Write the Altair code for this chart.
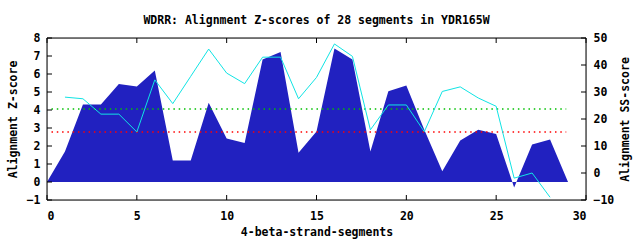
import altair as alt
import pandas as pd

# ---- data ----
segments = list(range(0, 30))
z_scores = [0, 1.7, 4.3, 4.3, 5.44, 5.3, 6.19, 1.19, 1.19, 4.4,
            2.42, 2.17, 6.8, 7.22, 1.62, 2.8, 7.42, 6.8, 1.7, 5.04,
            5.36, 2.9, 0.6, 2.3, 2.9, 2.67, -0.3, 2.08, 2.36, 0]
ss_segments = list(range(1, 29))
ss_scores = [28.1, 27.5, 21.8, 21.8, 15.2, 34.5, 25.7, 35.8, 45.9, 37.0,
             33.1, 42.9, 42.9, 27.5, 35.4, 47.8, 43.2, 16.0, 25.2, 25.2,
             15.3, 30.2, 31.9, 27.8, 24.7, -1.9, 0.0, -9.0]
thresholds = [4.06, 2.78]
threshold_colors = ["#00c000", "#ff0000"]
threshold_span = [0.25, 28.9]
x_ticks = [0, 5, 10, 15, 20, 25, 30]
z_ticks = [-1, 0, 1, 2, 3, 4, 5, 6, 7, 8]
ss_ticks = [-10, 0, 10, 20, 30, 40, 50]

W, H = 539, 162
FONT = "DejaVu Sans Mono"
FS = 11.5

z_df = pd.DataFrame({"seg": segments, "z": z_scores})
ss_df = pd.DataFrame({"seg": ss_segments, "ss": ss_scores})
thr_df = pd.DataFrame({"y": thresholds, "c": threshold_colors,
                       "x1": [threshold_span[0]] * 2, "x2": [threshold_span[1]] * 2})
xt_df = pd.DataFrame({"t": x_ticks})
zt_df = pd.DataFrame({"t": z_ticks})
st_df = pd.DataFrame({"t": ss_ticks})
one_df = pd.DataFrame({"k": [0]})

xscale = alt.Scale(domain=[0, 30], nice=False, zero=False)
zscale = alt.Scale(domain=[-1, 8], nice=False, zero=False)
sscale = alt.Scale(domain=[-10, 50], nice=False, zero=False)

x_axis = alt.Axis(values=x_ticks, ticks=False, domain=False, grid=False,
                  labelFont=FONT, labelFontWeight="bold", labelFontSize=FS,
                  labelColor="black", labelPadding=10,
                  title="4-beta-strand-segments", titleFont=FONT,
                  titleFontWeight="bold", titleFontSize=FS, titleColor="black",
                  titlePadding=5)

X = lambda f: alt.X(f, scale=xscale, axis=x_axis)

area = alt.Chart(z_df).mark_area(color="#2121c0", interpolate="linear").encode(
    x=X("seg:Q"),
    y=alt.Y("z:Q", scale=zscale,
            axis=alt.Axis(orient="left", values=z_ticks, ticks=False, domain=False,
                          grid=False, labelFont=FONT, labelFontWeight="bold",
                          labelFontSize=FS, labelColor="black", labelPadding=7,
                          title="Alignment Z-score", titleFont=FONT,
                          titleFontWeight="bold", titleFontSize=FS,
                          titleColor="black", titlePadding=8)),
    y2=alt.datum(0),
)

thr = alt.Chart(thr_df).mark_rule(strokeWidth=1.5, strokeDash=[1.5, 3.8]).encode(
    x=X("x1:Q"),
    x2="x2:Q",
    y=alt.Y("y:Q", scale=zscale, axis=None),
    color=alt.Color("c:N", scale=None),
)

line = alt.Chart(ss_df).mark_line(color="#10e4e4", strokeWidth=1).encode(
    x=X("seg:Q"),
    y=alt.Y("ss:Q", scale=sscale,
            axis=alt.Axis(orient="right", values=ss_ticks, ticks=False, domain=False,
                          grid=False, labelFont=FONT, labelFontWeight="bold",
                          labelFontSize=FS, labelColor="black", labelPadding=7,
                          labelAlign="left",
                          labelExpr="datum.value >= 0 ? ' ' + datum.label : datum.label",
                          title="Alignment SS-score", titleFont=FONT,
                          titleFontWeight="bold", titleFontSize=FS,
                          titleColor="black", titleAngle=270, titlePadding=17)),
)

xt_bottom = alt.Chart(xt_df).mark_rule(color="black").encode(
    x=X("t:Q"),
    y=alt.value(H), y2=alt.value(H - 5),
)
xt_top = alt.Chart(xt_df).mark_rule(color="black").encode(
    x=X("t:Q"),
    y=alt.value(0), y2=alt.value(5),
)
zt = alt.Chart(zt_df).mark_rule(color="black").encode(
    y=alt.Y("t:Q", scale=zscale, axis=None),
    x=alt.value(0), x2=alt.value(5),
)
st = alt.Chart(st_df).mark_rule(color="black").encode(
    y=alt.Y("t:Q", scale=sscale, axis=None),
    x=alt.value(W - 5), x2=alt.value(W),
)

border = alt.layer(
    alt.Chart(one_df).mark_rule(color="black").encode(
        x=alt.value(0), x2=alt.value(W), y=alt.value(0)),
    alt.Chart(one_df).mark_rule(color="black").encode(
        x=alt.value(0), x2=alt.value(W), y=alt.value(H)),
    alt.Chart(one_df).mark_rule(color="black").encode(
        x=alt.value(0), y=alt.value(0), y2=alt.value(H)),
    alt.Chart(one_df).mark_rule(color="black").encode(
        x=alt.value(W), y=alt.value(0), y2=alt.value(H)),
)

chart = alt.layer(area, thr, xt_bottom, xt_top, zt, line, st, border).resolve_scale(
    y="independent"
).properties(
    width=W, height=H,
    title=alt.TitleParams("WDRR: Alignment Z-scores of 28 segments in YDR165W",
                          font=FONT, fontWeight="bold", fontSize=FS,
                          color="black", anchor="middle", offset=6),
    autosize=alt.AutoSizeParams(type="none"),
    padding={"left": 47, "top": 38, "right": 54, "bottom": 40},
).configure_view(stroke=None).configure(background="white")

chart.save("out.html", embed_options={"renderer": "svg", "actions": False})
